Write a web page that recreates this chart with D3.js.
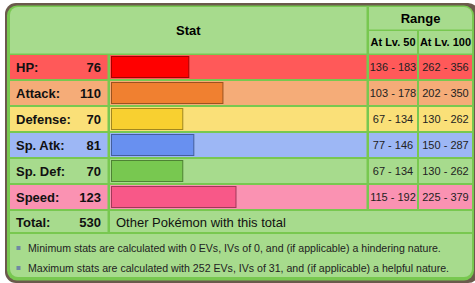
<!DOCTYPE html>
<html>
<head>
<meta charset="utf-8">
<script src="https://cdn.jsdelivr.net/npm/d3@7"></script>
<style>
  body { margin: 0; background: #fff; }
  svg text { font-family: "Liberation Sans", Arial, sans-serif; }
</style>
</head>
<body>
<div id="chart"></div>
<script>
// chart values
var statNames = ["HP:", "Attack:", "Defense:", "Sp. Atk:", "Sp. Def:", "Speed:"];
var baseStats = [76, 110, 70, 81, 70, 123];
var rangeLv50 = ["136 - 183", "103 - 178", "67 - 134", "77 - 146", "67 - 134", "115 - 192"];
var rangeLv100 = ["262 - 356", "202 - 350", "130 - 262", "150 - 287", "130 - 262", "225 - 379"];
var totalLabel = "Total:";
var totalValue = 530;
var totalLink = "Other Pokémon with this total";
var notes = [
  "Minimum stats are calculated with 0 EVs, IVs of 0, and (if applicable) a hindering nature.",
  "Maximum stats are calculated with 252 EVs, IVs of 31, and (if applicable) a helpful nature."
];

// colours per stat row
var rowFill = ["#ff5959", "#f5ac78", "#fae078", "#9db7f5", "#a7db8d", "#fa92b2"];
var barFill = ["#ff0000", "#f08030", "#f8d030", "#6890f0", "#78c850", "#f85888"];
var barStroke = ["#a60000", "#9c531f", "#a1871f", "#445e9c", "#4e8234", "#a13959"];
var lightGreen = "#a7db8d", borderGreen = "#78c850", brown = "#6b5a4c";

var width = 475, height = 283;

var svg = d3.select("#chart")
  .append("svg")
    .attr("width", width)
    .attr("height", height);

// outer frame
svg.append("rect")
  .attr("x", 5).attr("y", 3)
  .attr("width", 474).attr("height", 280)
  .attr("rx", 11)
  .attr("fill", brown);

svg.append("rect")
  .attr("x", 7).attr("y", 5.5)
  .attr("width", 467).attr("height", 275)
  .attr("rx", 10)
  .attr("fill", borderGreen);

svg.append("clipPath")
    .attr("id", "inner")
  .append("rect")
    .attr("x", 10).attr("y", 7)
    .attr("width", 462).attr("height", 270)
    .attr("rx", 8);

var g = svg.append("g").attr("clip-path", "url(#inner)");

// columns
var col = {
  label: [10, 107.5],
  bar: [110, 366.5],
  lv50: [369, 417],
  lv100: [419, 472]
};

// rows
var y = d3.scaleBand()
  .domain(statNames)
  .range([54, 210])
  .paddingInner(2 / 26)
  .paddingOuter(1 / 26);

var x = d3.scaleLinear()
  .domain([0, 255])
  .range([0, 256]);

// header
g.append("rect")
  .attr("x", col.label[0]).attr("y", 7)
  .attr("width", col.bar[1] - col.label[0]).attr("height", 46.5)
  .attr("fill", lightGreen);
g.append("rect")
  .attr("x", col.lv50[0]).attr("y", 7)
  .attr("width", col.lv100[1] - col.lv50[0]).attr("height", 22.5)
  .attr("fill", lightGreen);
g.append("rect")
  .attr("x", col.lv50[0]).attr("y", 31)
  .attr("width", col.lv50[1] - col.lv50[0]).attr("height", 22.5)
  .attr("fill", lightGreen);
g.append("rect")
  .attr("x", col.lv100[0]).attr("y", 31)
  .attr("width", col.lv100[1] - col.lv100[0]).attr("height", 22.5)
  .attr("fill", lightGreen);

g.append("text")
  .attr("x", (col.label[0] + col.bar[1]) / 2).attr("y", 35)
  .attr("text-anchor", "middle")
  .style("font-size", "13px").style("font-weight", "bold")
  .text("Stat");
g.append("text")
  .attr("x", (col.lv50[0] + col.lv100[1]) / 2).attr("y", 23)
  .attr("text-anchor", "middle")
  .style("font-size", "13px").style("font-weight", "bold")
  .text("Range");
g.append("text")
  .attr("x", (col.lv50[0] + col.lv50[1]) / 2).attr("y", 46)
  .attr("text-anchor", "middle")
  .style("font-size", "11px").style("font-weight", "bold")
  .text("At Lv. 50");
g.append("text")
  .attr("x", (col.lv100[0] + col.lv100[1]) / 2).attr("y", 46)
  .attr("text-anchor", "middle")
  .style("font-size", "11px").style("font-weight", "bold")
  .text("At Lv. 100");

// stat rows
var rows = g.selectAll(".row")
  .data(statNames)
  .enter()
  .append("g")
    .attr("class", "row")
    .attr("transform", function(d) { return "translate(0," + y(d) + ")"; });

[col.label, col.bar, col.lv50, col.lv100].forEach(function(c) {
  rows.append("rect")
    .attr("x", c[0])
    .attr("width", c[1] - c[0])
    .attr("height", y.bandwidth())
    .attr("fill", function(d, i) { return rowFill[i]; });
});

rows.append("rect")
  .attr("x", 111.5)
  .attr("y", 1.5)
  .attr("width", function(d, i) { return x(baseStats[i]) + 1; })
  .attr("height", y.bandwidth() - 3)
  .attr("fill", function(d, i) { return barFill[i]; })
  .attr("stroke", function(d, i) { return barStroke[i]; })
  .attr("stroke-width", 1);

rows.append("text")
  .attr("x", 16).attr("y", 16.5)
  .style("font-size", "13px").style("font-weight", "bold")
  .attr("fill", "#111")
  .text(function(d) { return d; });

rows.append("text")
  .attr("x", 101).attr("y", 16.5)
  .attr("text-anchor", "end")
  .style("font-size", "13px").style("font-weight", "bold")
  .attr("fill", "#111")
  .text(function(d, i) { return baseStats[i]; });

rows.append("text")
  .attr("x", (col.lv50[0] + col.lv50[1]) / 2).attr("y", 16)
  .attr("text-anchor", "middle")
  .style("font-size", "11px")
  .attr("fill", "#222")
  .text(function(d, i) { return rangeLv50[i]; });

rows.append("text")
  .attr("x", (col.lv100[0] + col.lv100[1]) / 2).attr("y", 16)
  .attr("text-anchor", "middle")
  .style("font-size", "11px")
  .attr("fill", "#222")
  .text(function(d, i) { return rangeLv100[i]; });

// total row
var totalTop = y(statNames[statNames.length - 1]) + y.step();
g.append("rect")
  .attr("x", col.label[0]).attr("y", totalTop)
  .attr("width", col.label[1] - col.label[0]).attr("height", 21)
  .attr("fill", lightGreen);
g.append("rect")
  .attr("x", col.bar[0]).attr("y", totalTop)
  .attr("width", col.lv100[1] - col.bar[0]).attr("height", 21)
  .attr("fill", lightGreen);
g.append("text")
  .attr("x", 16).attr("y", totalTop + 15.5)
  .style("font-size", "13px").style("font-weight", "bold")
  .attr("fill", "#111")
  .text(totalLabel);
g.append("text")
  .attr("x", 101).attr("y", totalTop + 15.5)
  .attr("text-anchor", "end")
  .style("font-size", "13px").style("font-weight", "bold")
  .attr("fill", "#111")
  .text(totalValue);
g.append("text")
  .attr("x", 116).attr("y", totalTop + 15.5)
  .style("font-size", "13px")
  .attr("fill", "#111")
  .text(totalLink);

// notes
var notesTop = totalTop + 23;
g.append("rect")
  .attr("x", col.label[0]).attr("y", notesTop)
  .attr("width", col.lv100[1] - col.label[0]).attr("height", 277 - notesTop)
  .attr("fill", lightGreen);

var noteY = d3.scalePoint()
  .domain(d3.range(notes.length))
  .range([notesTop + 18, notesTop + 38]);

g.selectAll(".bullet")
  .data(notes)
  .enter()
  .append("rect")
    .attr("x", 16.5)
    .attr("y", function(d, i) { return noteY(i) - 6; })
    .attr("width", 4).attr("height", 4)
    .attr("fill", "#7088a4");

g.selectAll(".note")
  .data(notes)
  .enter()
  .append("text")
    .attr("x", 28)
    .attr("y", function(d, i) { return noteY(i); })
    .style("font-size", "10.6px")
    .attr("fill", "#222")
    .text(function(d) { return d; });
</script>
</body>
</html>
